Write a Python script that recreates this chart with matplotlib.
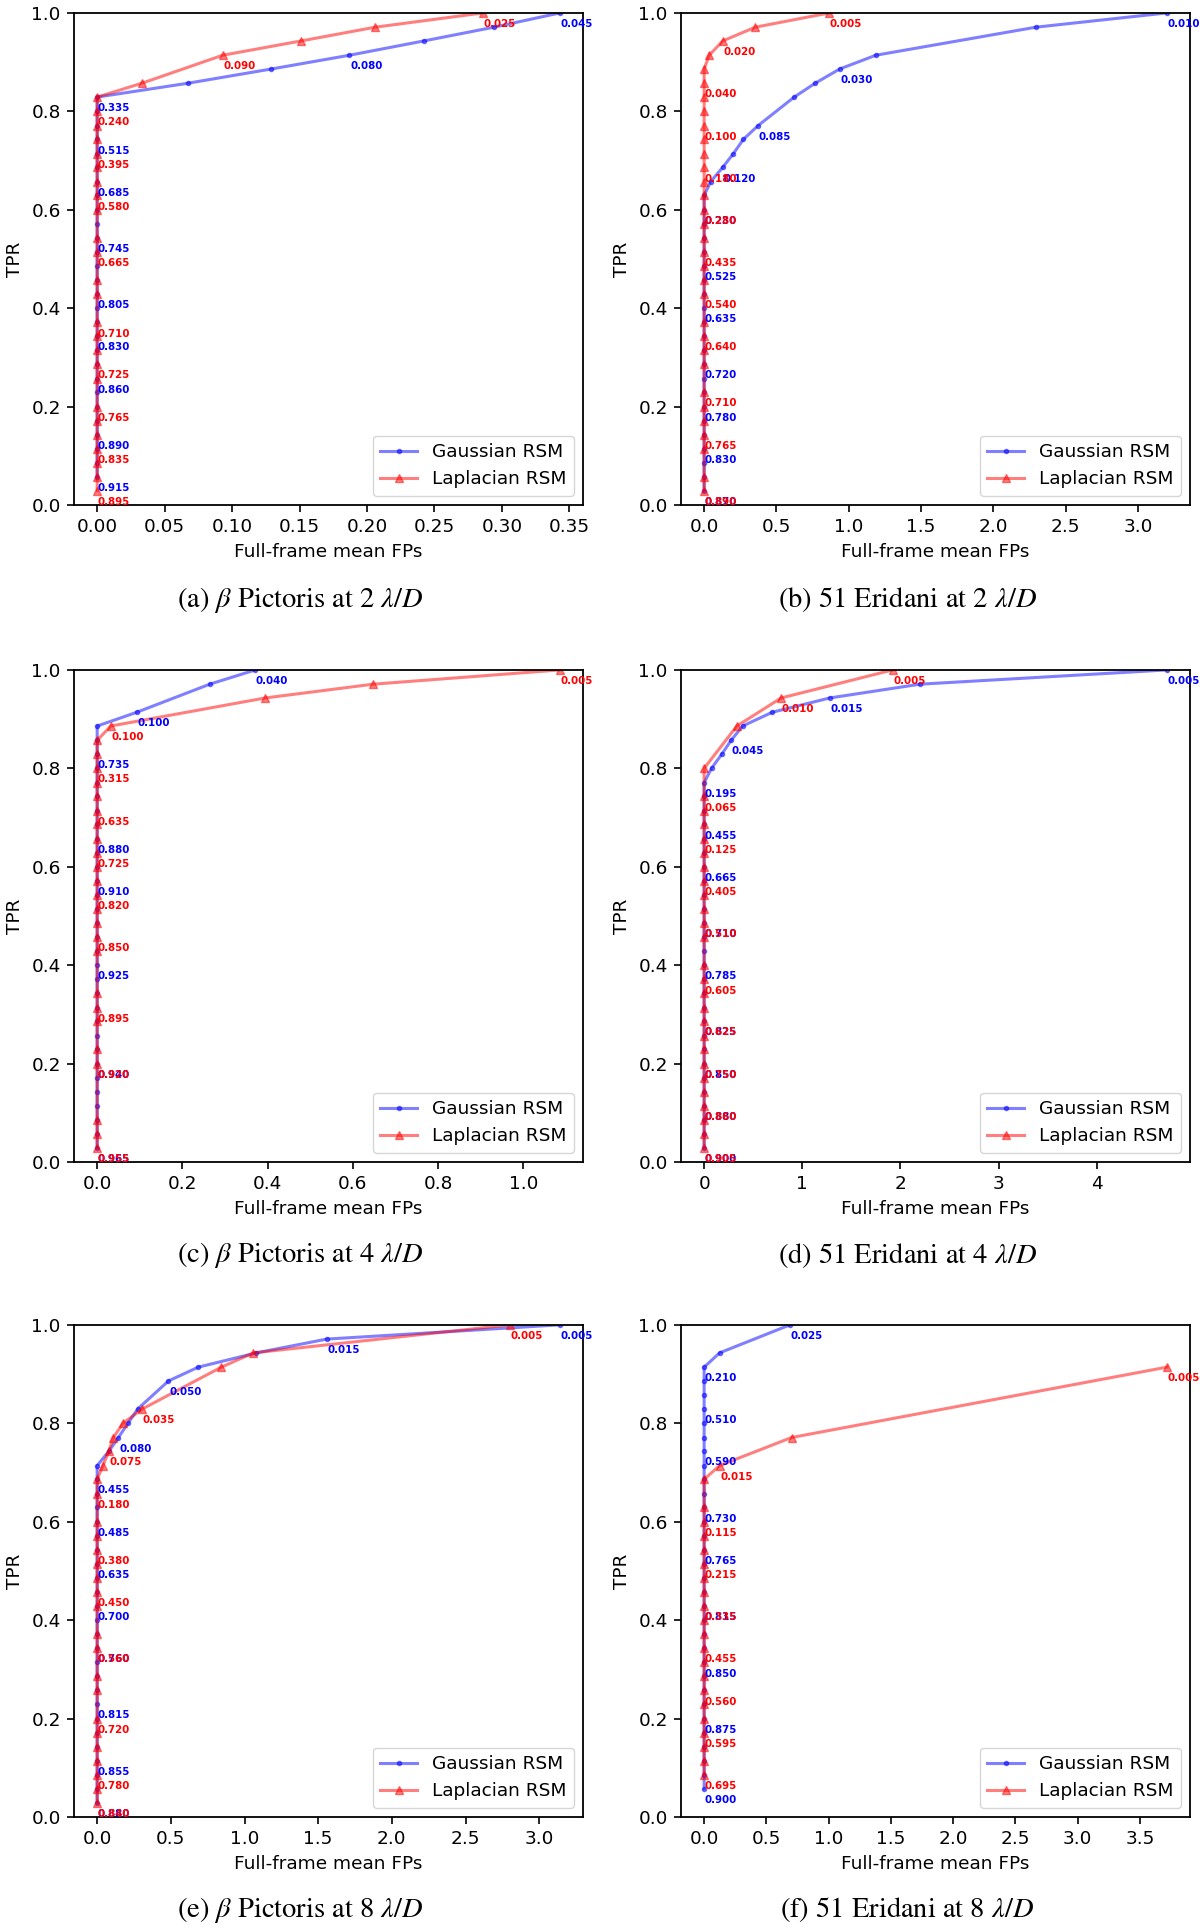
import matplotlib
matplotlib.use('Agg')
import matplotlib.pyplot as plt

plt.rcParams['font.family'] = ['DejaVu Sans']
plt.rcParams['mathtext.fontset'] = 'stix'
plt.rcParams['axes.linewidth'] = 1.3

# ROC points. *_fp holds the off-axis false positives,
# every remaining point of the series sits at 0 FP.
# *_lab maps a TPR value to the threshold printed next to that point.

# (a) beta Pictoris at 2 lambda/D
a_gauss_fp = [0.343, 0.294, 0.242, 0.187, 0.129, 0.067]
a_gauss_tpr = [1.0, 0.971, 0.943, 0.914, 0.886, 0.857, 0.829, 0.8, 0.771, 0.743, 0.714, 0.686,
               0.657, 0.629, 0.6, 0.571, 0.543, 0.514, 0.486, 0.457, 0.429, 0.4, 0.371, 0.343,
               0.314, 0.286, 0.257, 0.229, 0.2, 0.171, 0.143, 0.114, 0.086, 0.057]
a_gauss_lab = {1.0: '0.045', 0.914: '0.080', 0.829: '0.335', 0.743: '0.515', 0.657: '0.685',
               0.543: '0.745', 0.429: '0.805', 0.343: '0.830', 0.257: '0.860', 0.143: '0.890',
               0.057: '0.915'}
a_lap_fp = [0.286, 0.206, 0.151, 0.093, 0.033]
a_lap_tpr = [1.0, 0.971, 0.943, 0.914, 0.857, 0.829, 0.8, 0.771, 0.743, 0.714, 0.686, 0.657,
             0.629, 0.6, 0.543, 0.514, 0.457, 0.429, 0.371, 0.343, 0.314, 0.286, 0.257, 0.2,
             0.171, 0.143, 0.114, 0.086, 0.057, 0.029]
a_lap_lab = {1.0: '0.025', 0.914: '0.090', 0.8: '0.240', 0.714: '0.395', 0.629: '0.580',
             0.514: '0.665', 0.371: '0.710', 0.286: '0.725', 0.2: '0.765', 0.114: '0.835',
             0.029: '0.895'}

# (b) 51 Eridani at 2 lambda/D
b_gauss_fp = [3.2, 2.294, 1.187, 0.937, 0.767, 0.623, 0.373, 0.271, 0.202, 0.128, 0.045]
b_gauss_tpr = [1.0, 0.971, 0.914, 0.886, 0.857, 0.829, 0.771, 0.743, 0.714, 0.686, 0.657,
               0.629, 0.6, 0.571, 0.543, 0.514, 0.486, 0.457, 0.429, 0.4, 0.371, 0.343, 0.314,
               0.286, 0.257, 0.229, 0.2, 0.171, 0.143, 0.114, 0.086, 0.057, 0.029]
b_gauss_lab = {1.0: '0.010', 0.886: '0.030', 0.771: '0.085', 0.686: '0.120', 0.6: '0.230',
               0.486: '0.525', 0.4: '0.635', 0.286: '0.720', 0.2: '0.780', 0.114: '0.830',
               0.029: '0.870'}
b_lap_fp = [0.865, 0.354, 0.128, 0.035]
b_lap_tpr = [1.0, 0.971, 0.943, 0.914, 0.886, 0.857, 0.829, 0.8, 0.771, 0.743, 0.714, 0.686,
             0.657, 0.629, 0.6, 0.571, 0.543, 0.514, 0.486, 0.457, 0.429, 0.371, 0.343, 0.314,
             0.286, 0.229, 0.2, 0.171, 0.143, 0.114, 0.057, 0.029]
b_lap_lab = {1.0: '0.005', 0.943: '0.020', 0.857: '0.040', 0.771: '0.100', 0.686: '0.180',
             0.6: '0.280', 0.514: '0.435', 0.429: '0.540', 0.343: '0.640', 0.229: '0.710',
             0.143: '0.765', 0.029: '0.890'}

# (c) beta Pictoris at 4 lambda/D
c_gauss_fp = [0.371, 0.264, 0.093]
c_gauss_tpr = [1.0, 0.971, 0.914, 0.886, 0.857, 0.829, 0.8, 0.771, 0.743, 0.714, 0.686, 0.657,
               0.629, 0.6, 0.571, 0.543, 0.514, 0.486, 0.457, 0.429, 0.4, 0.371, 0.343, 0.314,
               0.286, 0.257, 0.229, 0.2, 0.171, 0.143, 0.114, 0.086, 0.057, 0.029]
c_gauss_lab = {1.0: '0.040', 0.914: '0.100', 0.829: '0.735', 0.657: '0.880', 0.571: '0.910',
               0.4: '0.925', 0.2: '0.940', 0.029: '0.965'}
c_lap_fp = [1.086, 0.647, 0.394, 0.032]
c_lap_tpr = [1.0, 0.971, 0.943, 0.886, 0.857, 0.829, 0.8, 0.771, 0.743, 0.714, 0.686, 0.657,
             0.629, 0.6, 0.571, 0.543, 0.514, 0.486, 0.457, 0.429, 0.343, 0.314, 0.286, 0.229,
             0.2, 0.086, 0.057, 0.029]
c_lap_lab = {1.0: '0.005', 0.886: '0.100', 0.8: '0.315', 0.714: '0.635', 0.629: '0.725',
             0.543: '0.820', 0.457: '0.850', 0.314: '0.895', 0.2: '0.920', 0.029: '0.955'}

# (d) 51 Eridani at 4 lambda/D
d_gauss_fp = [4.714, 2.196, 1.278, 0.694, 0.392, 0.275, 0.18, 0.075]
d_gauss_tpr = [1.0, 0.971, 0.943, 0.914, 0.886, 0.857, 0.829, 0.8, 0.771, 0.743, 0.714, 0.686,
               0.657, 0.629, 0.6, 0.571, 0.543, 0.514, 0.486, 0.457, 0.429, 0.4, 0.371, 0.343,
               0.314, 0.286, 0.257, 0.229, 0.2, 0.171, 0.143, 0.114, 0.086, 0.057, 0.029]
d_gauss_lab = {1.0: '0.005', 0.943: '0.015', 0.857: '0.045', 0.771: '0.195', 0.686: '0.455',
               0.6: '0.665', 0.486: '0.710', 0.4: '0.785', 0.286: '0.825', 0.2: '0.850',
               0.114: '0.880', 0.029: '0.900'}
d_lap_fp = [1.92, 0.784, 0.333]
d_lap_tpr = [1.0, 0.943, 0.886, 0.8, 0.743, 0.714, 0.686, 0.657, 0.629, 0.6, 0.571, 0.543,
             0.514, 0.486, 0.457, 0.4, 0.371, 0.343, 0.314, 0.286, 0.257, 0.229, 0.2, 0.171,
             0.143, 0.114, 0.086, 0.057, 0.029]
d_lap_lab = {1.0: '0.005', 0.943: '0.010', 0.743: '0.065', 0.657: '0.125', 0.571: '0.405',
             0.486: '0.510', 0.371: '0.605', 0.286: '0.625', 0.2: '0.750', 0.114: '0.860',
             0.029: '0.905'}

# (e) beta Pictoris at 8 lambda/D
e_gauss_fp = [3.141, 1.557, 1.081, 0.686, 0.484, 0.275, 0.209, 0.144, 0.079]
e_gauss_tpr = [1.0, 0.971, 0.943, 0.914, 0.886, 0.829, 0.8, 0.771, 0.743, 0.714, 0.686, 0.657,
               0.629, 0.6, 0.571, 0.543, 0.514, 0.486, 0.457, 0.429, 0.4, 0.371, 0.343, 0.314,
               0.286, 0.257, 0.229, 0.2, 0.171, 0.143, 0.114, 0.086, 0.057, 0.029]
e_gauss_lab = {1.0: '0.005', 0.971: '0.015', 0.886: '0.050', 0.771: '0.080', 0.686: '0.455',
               0.6: '0.485', 0.514: '0.635', 0.429: '0.700', 0.343: '0.760', 0.229: '0.815',
               0.114: '0.855', 0.029: '0.880'}
e_lap_fp = [2.80, 1.06, 0.843, 0.306, 0.175, 0.11, 0.079, 0.039]
e_lap_tpr = [1.0, 0.943, 0.914, 0.829, 0.8, 0.771, 0.743, 0.714, 0.686, 0.657, 0.6, 0.571,
             0.543, 0.514, 0.486, 0.457, 0.429, 0.371, 0.343, 0.286, 0.257, 0.2, 0.171, 0.143,
             0.114, 0.086, 0.057, 0.029]
e_lap_lab = {1.0: '0.005', 0.829: '0.035', 0.743: '0.075', 0.657: '0.180', 0.543: '0.380',
             0.457: '0.450', 0.343: '0.560', 0.2: '0.720', 0.086: '0.780', 0.029: '0.840'}

# (f) 51 Eridani at 8 lambda/D
f_gauss_fp = [0.69, 0.124]
f_gauss_tpr = [1.0, 0.943, 0.914, 0.886, 0.857, 0.829, 0.8, 0.771, 0.743, 0.714, 0.686, 0.657,
               0.629, 0.6, 0.571, 0.543, 0.514, 0.486, 0.457, 0.429, 0.4, 0.371, 0.343, 0.314,
               0.286, 0.257, 0.229, 0.2, 0.171, 0.143, 0.114, 0.086, 0.057]
f_gauss_lab = {1.0: '0.025', 0.914: '0.210', 0.829: '0.510', 0.743: '0.590', 0.629: '0.730',
               0.543: '0.765', 0.429: '0.815', 0.314: '0.850', 0.2: '0.875', 0.057: '0.900'}
f_lap_fp = [3.717, 0.702, 0.124]
f_lap_tpr = [0.914, 0.771, 0.714, 0.686, 0.629, 0.6, 0.571, 0.543, 0.514, 0.486, 0.457, 0.429,
             0.4, 0.371, 0.343, 0.314, 0.286, 0.257, 0.229, 0.2, 0.171, 0.143, 0.114, 0.086]
f_lap_lab = {0.914: '0.005', 0.714: '0.015', 0.6: '0.115', 0.514: '0.215', 0.429: '0.335',
             0.343: '0.455', 0.257: '0.560', 0.171: '0.595', 0.086: '0.695'}

captions = [r'(a) $\beta$ Pictoris at 2 $\lambda/D$',
            r'(b) 51 Eridani at 2 $\lambda/D$',
            r'(c) $\beta$ Pictoris at 4 $\lambda/D$',
            r'(d) 51 Eridani at 4 $\lambda/D$',
            r'(e) $\beta$ Pictoris at 8 $\lambda/D$',
            r'(f) 51 Eridani at 8 $\lambda/D$']

panels = [
    (a_gauss_fp, a_gauss_tpr, a_gauss_lab, a_lap_fp, a_lap_tpr, a_lap_lab),
    (b_gauss_fp, b_gauss_tpr, b_gauss_lab, b_lap_fp, b_lap_tpr, b_lap_lab),
    (c_gauss_fp, c_gauss_tpr, c_gauss_lab, c_lap_fp, c_lap_tpr, c_lap_lab),
    (d_gauss_fp, d_gauss_tpr, d_gauss_lab, d_lap_fp, d_lap_tpr, d_lap_lab),
    (e_gauss_fp, e_gauss_tpr, e_gauss_lab, e_lap_fp, e_lap_tpr, e_lap_lab),
    (f_gauss_fp, f_gauss_tpr, f_gauss_lab, f_lap_fp, f_lap_tpr, f_lap_lab),
]

FS = 13.3


def pad_fp(fp, tpr):
    # points below the knee all sit on the FP = 0 axis
    return list(fp) + [0.0] * (len(tpr) - len(fp))


def annotate_series(ax, fp, tpr, labels, color):
    for x, y in zip(fp, tpr):
        if y in labels:
            ax.annotate(labels[y], (x, y), textcoords='offset points', xytext=(0.5, -8),
                        ha='left', va='center', color=color, fontsize=7.4,
                        fontweight='bold', annotation_clip=False)


fig = plt.figure(figsize=(12, 19.29), dpi=100)

col_left = [0.0617, 0.5675]
row_bottom = [0.7382, 0.3976, 0.0581]
ax_w, ax_h = 0.4242, 0.2551
cap_x = [0.25, 0.756]
cap_y = [0.689, 0.3494, 0.0099]

for i, (g_fp, g_tpr, g_lab, l_fp, l_tpr, l_lab) in enumerate(panels):
    r, c = divmod(i, 2)
    ax = fig.add_axes([col_left[c], row_bottom[r], ax_w, ax_h])

    g_x = pad_fp(g_fp, g_tpr)
    l_x = pad_fp(l_fp, l_tpr)
    ax.plot(g_x, g_tpr, 'b.-', alpha=0.5, ms=6, lw=2.2, label='Gaussian RSM')
    ax.plot(l_x, l_tpr, 'r^-', alpha=0.5, ms=5.5, lw=2.2, label='Laplacian RSM')

    annotate_series(ax, g_x, g_tpr, g_lab, 'b')
    annotate_series(ax, l_x, l_tpr, l_lab, 'r')

    ax.set_ylim(0, 1)
    ax.set_xlabel('Full-frame mean FPs', fontsize=FS, labelpad=5)
    ax.set_ylabel('TPR', fontsize=FS, labelpad=5)
    ax.tick_params(labelsize=FS, width=1.2, length=5, pad=4.5)
    ax.legend(loc='lower right', fontsize=FS)

    fig.text(cap_x[c], cap_y[r], captions[i], ha='center', va='center',
             fontsize=20.5, family='STIXGeneral')

fig.savefig('out.png', dpi=100)
